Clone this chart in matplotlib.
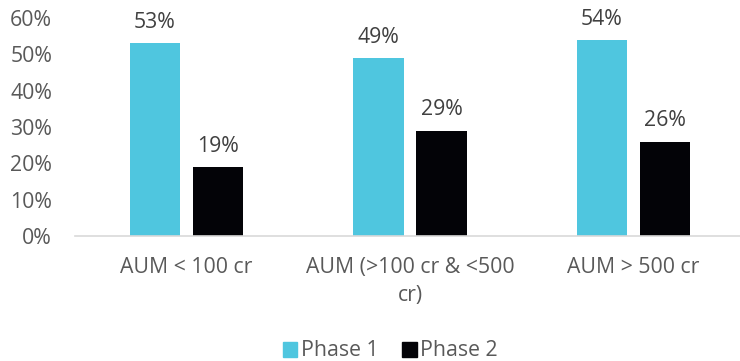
import matplotlib
matplotlib.use("Agg")
import matplotlib.pyplot as plt
import numpy as np
from matplotlib.patches import Patch

categories = ["AUM < 100 cr", "AUM (>100 cr & <500\ncr)", "AUM > 500 cr"]
phase1 = [53, 49, 54]
phase2 = [19, 29, 26]
yticks = [0, 10, 20, 30, 40, 50, 60]

plt.rcParams['font.family'] = ['Open Sans', 'DejaVu Sans']
text_col = '#595959'
cyan = '#4FC6DF'
black = '#030307'
fs = 15.3

fig = plt.figure(figsize=(7.4, 3.61), dpi=100)
W, H = 740, 361
ax = fig.add_axes([75 / W, 1 - 236 / H, 665 / W, 218 / H])

x = np.arange(len(categories))
w = 0.224
off = 0.141
b1 = ax.bar(x - off, phase1, w, color=cyan, label='Phase 1')
b2 = ax.bar(x + off, phase2, w, color=black, label='Phase 2')

for bars, vals in ((b1, phase1), (b2, phase2)):
    for b, v in zip(bars, vals):
        ax.annotate(f"{v}%", (b.get_x() + b.get_width() / 2, v),
                    xytext=(0, 11), textcoords='offset points',
                    ha='center', va='baseline', fontsize=fs, color='#404040')

ax.set_xlim(-0.4989, 2.4765)
ax.set_ylim(0, 60)
ax.set_yticks(yticks)
ax.set_yticklabels([f"{t}%" for t in yticks])
ax.set_xticks(x)
ax.set_xticklabels(categories, linespacing=1.45)
ax.tick_params(axis='both', length=0, labelsize=fs, labelcolor=text_col)
ax.tick_params(axis='y', pad=16.5)
ax.tick_params(axis='x', pad=15)

for s in ('top', 'right', 'left'):
    ax.spines[s].set_visible(False)
ax.spines['bottom'].set_color('#D9D9D9')
ax.spines['bottom'].set_linewidth(1.2)

handles = [Patch(color=cyan, label='Phase 1'), Patch(color=black, label='Phase 2')]
leg = fig.legend(handles=handles, loc='center', bbox_to_anchor=(390 / W, 1 - 351 / H),
                 ncol=2, frameon=False, fontsize=fs, handlelength=0.7, handleheight=0.7,
                 handletextpad=0.15, columnspacing=1.1, borderpad=0, borderaxespad=0)
for t in leg.get_texts():
    t.set_color(text_col)

fig.savefig("out.png", dpi=100)
